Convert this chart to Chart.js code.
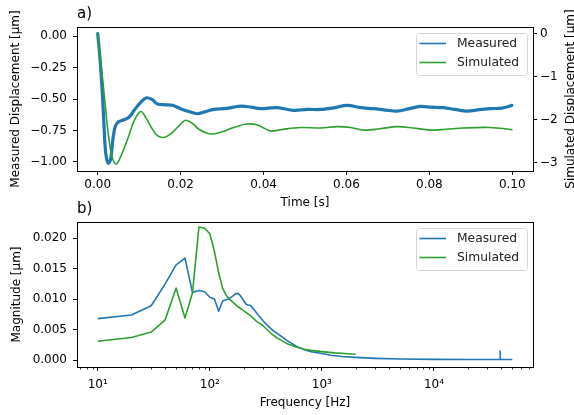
<!DOCTYPE html>
<html>
<head>
<meta charset="utf-8">
<script src="https://cdn.jsdelivr.net/npm/chart.js@4.4.0/dist/chart.umd.min.js"></script>
<style>
    html, body { margin: 0; padding: 0; background: #fff; overflow: hidden; }
    body { width: 574px; height: 415px; position: relative; }
    .box { position: absolute; left: 0; }
    #boxA { top: 0; }
    #boxB { top: 195px; }
</style>
</head>
<body>
<div class="box" id="boxA"><canvas id="chartA" width="584" height="212"></canvas></div>
<div class="box" id="boxB"><canvas id="chartB" width="584" height="220"></canvas></div>
<script>
// a) time response
const measuredTime = [0, 0.0006, 0.0011, 0.0015, 0.0019, 0.0025, 0.0031, 0.0037, 0.0043, 0.0051, 0.0063, 0.0076, 0.0088, 0.0100, 0.0112, 0.0119, 0.0132, 0.0144, 0.0164, 0.0180, 0.0200, 0.0220, 0.0240, 0.0260, 0.0280, 0.0310, 0.0345, 0.0370, 0.0393, 0.0433, 0.0473, 0.0505, 0.0537, 0.0570, 0.0602, 0.0634, 0.0666, 0.0695, 0.0722, 0.0750, 0.0778, 0.0805, 0.0834, 0.0862, 0.0891, 0.0920, 0.0947, 0.0975, 0.0999];
const measuredDisp = [0.02, -0.2, -0.45, -0.7, -0.92, -1.01, -0.98, -0.81, -0.71, -0.68, -0.665, -0.643, -0.59, -0.54, -0.50, -0.49, -0.505, -0.54, -0.546, -0.55, -0.577, -0.6, -0.617, -0.6, -0.583, -0.575, -0.557, -0.565, -0.577, -0.569, -0.59, -0.583, -0.583, -0.57, -0.55, -0.569, -0.577, -0.588, -0.596, -0.578, -0.559, -0.565, -0.569, -0.583, -0.596, -0.585, -0.577, -0.572, -0.551];
const simulatedTime = [0, 0.0011, 0.0019, 0.0027, 0.0035, 0.0044, 0.0051, 0.0063, 0.0075, 0.0088, 0.0104, 0.0116, 0.0132, 0.0144, 0.0160, 0.0176, 0.0188, 0.0200, 0.0212, 0.0228, 0.0244, 0.0272, 0.0300, 0.0328, 0.0360, 0.0385, 0.0417, 0.0441, 0.0489, 0.0537, 0.0578, 0.0610, 0.0642, 0.0680, 0.0722, 0.0760, 0.0802, 0.0840, 0.0883, 0.0947, 0.0999];
const simulatedDisp = [0, -0.98, -1.75, -2.45, -2.88, -3.03, -2.95, -2.68, -2.37, -2.02, -1.81, -1.95, -2.22, -2.37, -2.41, -2.33, -2.22, -2.1, -2.01, -2.08, -2.22, -2.33, -2.28, -2.18, -2.1, -2.12, -2.26, -2.23, -2.18, -2.19, -2.16, -2.18, -2.24, -2.21, -2.16, -2.19, -2.24, -2.22, -2.19, -2.18, -2.23];

// b) spectrum
const measuredFreq = [10, 20, 30, 40, 50, 60, 70, 80, 90, 100, 110, 120, 130, 140, 150, 160, 170, 180, 190, 200, 210, 220, 230, 240, 250, 270, 300, 330, 370, 420, 490, 600, 700, 800, 1000, 1200, 1500, 2000, 3000, 5000, 10000, 20000, 38990, 39000, 39010, 50000];
const measuredMag = [0.0068, 0.0074, 0.0089, 0.0125, 0.0156, 0.0167, 0.0111, 0.0114, 0.0112, 0.0103, 0.0100, 0.0080, 0.0097, 0.0099, 0.0101, 0.0105, 0.0109, 0.0109, 0.0104, 0.0098, 0.0092, 0.0090, 0.0090, 0.0086, 0.0082, 0.0074, 0.0064, 0.0056, 0.0048, 0.0041, 0.0032, 0.0022, 0.0017, 0.0014, 0.0011, 0.0008, 0.0006, 0.00045, 0.0003, 0.0002, 0.00013, 0.00012, 0.00012, 0.0015, 0.00012, 0.00012];
const simulatedFreq = [10, 20, 30, 40, 50, 60, 70, 80, 90, 100, 110, 120, 130, 140, 150, 160, 180, 200, 230, 260, 300, 350, 400, 490, 600, 700, 800, 1000, 1300, 1600, 2000];
const simulatedMag = [0.0031, 0.0037, 0.0046, 0.0066, 0.0118, 0.0069, 0.0110, 0.0218, 0.0216, 0.0207, 0.0178, 0.0143, 0.0118, 0.0106, 0.0100, 0.0095, 0.0087, 0.0081, 0.0073, 0.0064, 0.0056, 0.0044, 0.0036, 0.0027, 0.0021, 0.0018, 0.0016, 0.0014, 0.0012, 0.0011, 0.00098];

// tick labels
const timeTicks = [0, 0.02, 0.04, 0.06, 0.08, 0.10];
const measuredTicks = [0, -0.25, -0.5, -0.75, -1.0];
const simulatedTicks = [0, -1, -2, -3];
const freqTicks = [10, 100, 1000, 10000];
const magTicks = [0, 0.005, 0.01, 0.015, 0.02];

const BLUE = '#1f77b4';
const GREEN = '#2ca02c';
const FONT = 'DejaVu Sans';

Chart.defaults.font.family = FONT;
Chart.defaults.font.size = 12;
Chart.defaults.color = '#000';

function xy(xs, ys) {
    return xs.map((x, i) => ({ x: x, y: ys[i] }));
}

function minusFmt(v, digits) {
    const s = Math.abs(v).toFixed(digits);
    return (v < 0 && Math.abs(v) > 1e-9 ? '\u2212' : '') + s;
}

const sup = { 1: '\u00b9', 2: '\u00b2', 3: '\u00b3', 4: '\u2074' };

// frame, panel letter, legend, right title and minor log ticks
const decoPlugin = {
    id: 'deco',
    afterDraw(chart, args, opts) {
        const ctx = chart.ctx;
        const a = chart.chartArea;
        ctx.save();

        // minor ticks on log axis
        if (opts.minorAxis) {
            const sc = chart.scales[opts.minorAxis];
            ctx.strokeStyle = '#000';
            ctx.lineWidth = 0.8;
            for (let d = 0; d <= 5; d++) {
                for (let m = 2; m <= 9; m++) {
                    const v = m * Math.pow(10, d);
                    if (v < sc.min || v > sc.max) continue;
                    const px = Math.round(sc.getPixelForValue(v)) + 0.5;
                    ctx.beginPath();
                    ctx.moveTo(px, a.bottom);
                    ctx.lineTo(px, a.bottom + 2.5);
                    ctx.stroke();
                }
            }
        }

        // right axis title, reading upwards like the left one
        if (opts.rightTitle) {
            ctx.save();
            ctx.translate(571, (a.top + a.bottom) / 2);
            ctx.rotate(-Math.PI / 2);
            ctx.fillStyle = '#000';
            ctx.font = '12px "' + FONT + '"';
            ctx.textAlign = 'center';
            ctx.textBaseline = 'middle';
            ctx.fillText(opts.rightTitle, 0, 0);
            ctx.restore();
        }

        // legend box
        const bw = 111, bh = 42;
        const bx = a.right - 6 - bw, by = a.top + 6;
        ctx.fillStyle = 'rgba(255,255,255,0.8)';
        ctx.strokeStyle = '#d5d5d5';
        ctx.lineWidth = 1;
        ctx.beginPath();
        ctx.roundRect(bx + 0.5, by + 0.5, bw, bh, 3);
        ctx.fill();
        ctx.stroke();
        ctx.font = '12.3px "' + FONT + '"';
        ctx.textBaseline = 'middle';
        ctx.textAlign = 'left';
        chart.data.datasets.forEach((ds, i) => {
            const ly = by + 10.5 + i * 19;
            ctx.strokeStyle = ds.borderColor;
            ctx.lineWidth = 1.6;
            ctx.beginPath();
            ctx.moveTo(bx + 3.5, ly);
            ctx.lineTo(bx + 30, ly);
            ctx.stroke();
            ctx.fillStyle = '#222';
            ctx.fillText(ds.label, bx + 41, ly);
        });

        // frame
        ctx.strokeStyle = '#000';
        ctx.lineWidth = 1;
        ctx.strokeRect(Math.round(a.left) + 0.5, Math.round(a.top) + 0.5,
            Math.round(a.right - a.left), Math.round(a.bottom - a.top));

        // panel letter
        ctx.fillStyle = '#000';
        ctx.font = '15px "' + FONT + '"';
        ctx.textBaseline = 'alphabetic';
        ctx.fillText(opts.letter, a.left, a.top - 9);
        ctx.restore();
    }
};

function tickGrid() {
    return { drawOnChartArea: false, drawTicks: true, tickLength: 4, tickWidth: 1, tickColor: '#000', color: '#000' };
}

// chart a)
new Chart(document.getElementById('chartA'), {
    type: 'line',
    data: {
        datasets: [{
            label: 'Measured',
            data: xy(measuredTime, measuredDisp),
            borderColor: BLUE,
            borderWidth: 3.2,
            yAxisID: 'y',
            order: 1
        }, {
            label: 'Simulated',
            data: xy(simulatedTime, simulatedDisp),
            borderColor: GREEN,
            borderWidth: 1.6,
            yAxisID: 'y2',
            order: 0
        }]
    },
    options: {
        responsive: false,
        animation: false,
        events: [],
        layout: { padding: { top: 27, left: 0, right: 0, bottom: 0 } },
        elements: { point: { radius: 0 }, line: { tension: 0.35, borderJoinStyle: 'round', borderCapStyle: 'round' } },
        plugins: {
            legend: { display: false },
            tooltip: { enabled: false },
            deco: { letter: 'a)', rightTitle: 'Simulated Displacement [\u00b5m]' }
        },
        scales: {
            x: {
                type: 'linear',
                min: -0.005,
                max: 0.105,
                grid: tickGrid(),
                border: { display: false },
                afterBuildTicks: s => { s.ticks = timeTicks.map(v => ({ value: v })); },
                afterFit: s => { s.height = 41; },
                ticks: { autoSkip: false, maxRotation: 0, padding: 3, callback: v => v.toFixed(2) },
                title: { display: true, text: 'Time [s]', padding: { top: 0, bottom: 2 } }
            },
            y: {
                position: 'left',
                min: -1.072,
                max: 0.072,
                grid: tickGrid(),
                border: { display: false },
                afterBuildTicks: s => { s.ticks = measuredTicks.map(v => ({ value: v })); },
                afterFit: s => { s.width = 77; },
                ticks: { autoSkip: false, padding: 6, callback: v => minusFmt(v, 2) },
                title: { display: true, text: 'Measured Displacement [\u00b5m]', padding: { top: 9, bottom: 0 } }
            },
            y2: {
                position: 'right',
                min: -3.19,
                max: 0.155,
                grid: tickGrid(),
                border: { display: false },
                afterBuildTicks: s => { s.ticks = simulatedTicks.map(v => ({ value: v })); },
                afterFit: s => { s.width = 51; },
                ticks: { autoSkip: false, padding: 3, callback: v => minusFmt(v, 0) },
                title: { display: false }
            }
        }
    },
    plugins: [decoPlugin]
});

// chart b)
new Chart(document.getElementById('chartB'), {
    type: 'line',
    data: {
        datasets: [{
            label: 'Measured',
            data: xy(measuredFreq, measuredMag),
            borderColor: BLUE,
            borderWidth: 1.6,
            order: 1
        }, {
            label: 'Simulated',
            data: xy(simulatedFreq, simulatedMag),
            borderColor: GREEN,
            borderWidth: 1.6,
            order: 0
        }]
    },
    options: {
        responsive: false,
        animation: false,
        events: [],
        layout: { padding: { top: 27, left: 0, right: 51, bottom: 0 } },
        elements: { point: { radius: 0 }, line: { tension: 0, borderJoinStyle: 'round' } },
        plugins: {
            legend: { display: false },
            tooltip: { enabled: false },
            deco: { letter: 'b)', minorAxis: 'x' }
        },
        scales: {
            x: {
                type: 'logarithmic',
                min: 6.53,
                max: 76500,
                grid: tickGrid(),
                border: { display: false },
                afterBuildTicks: s => { s.ticks = freqTicks.map(v => ({ value: v })); },
                afterFit: s => { s.height = 48; },
                ticks: {
                    autoSkip: false, maxRotation: 0, padding: 7,
                    callback: v => '10' + sup[Math.round(Math.log10(v))]
                },
                title: { display: true, text: 'Frequency [Hz]', padding: { top: 0, bottom: 5 } }
            },
            y: {
                position: 'left',
                min: -0.00112,
                max: 0.02262,
                grid: tickGrid(),
                border: { display: false },
                afterBuildTicks: s => { s.ticks = magTicks.map(v => ({ value: v })); },
                afterFit: s => { s.width = 77; },
                ticks: { autoSkip: false, padding: 6, callback: v => v.toFixed(3) },
                title: { display: true, text: 'Magnitude [\u00b5m]', padding: { top: 10, bottom: 0 } }
            }
        }
    },
    plugins: [decoPlugin]
});
</script>
</body>
</html>
